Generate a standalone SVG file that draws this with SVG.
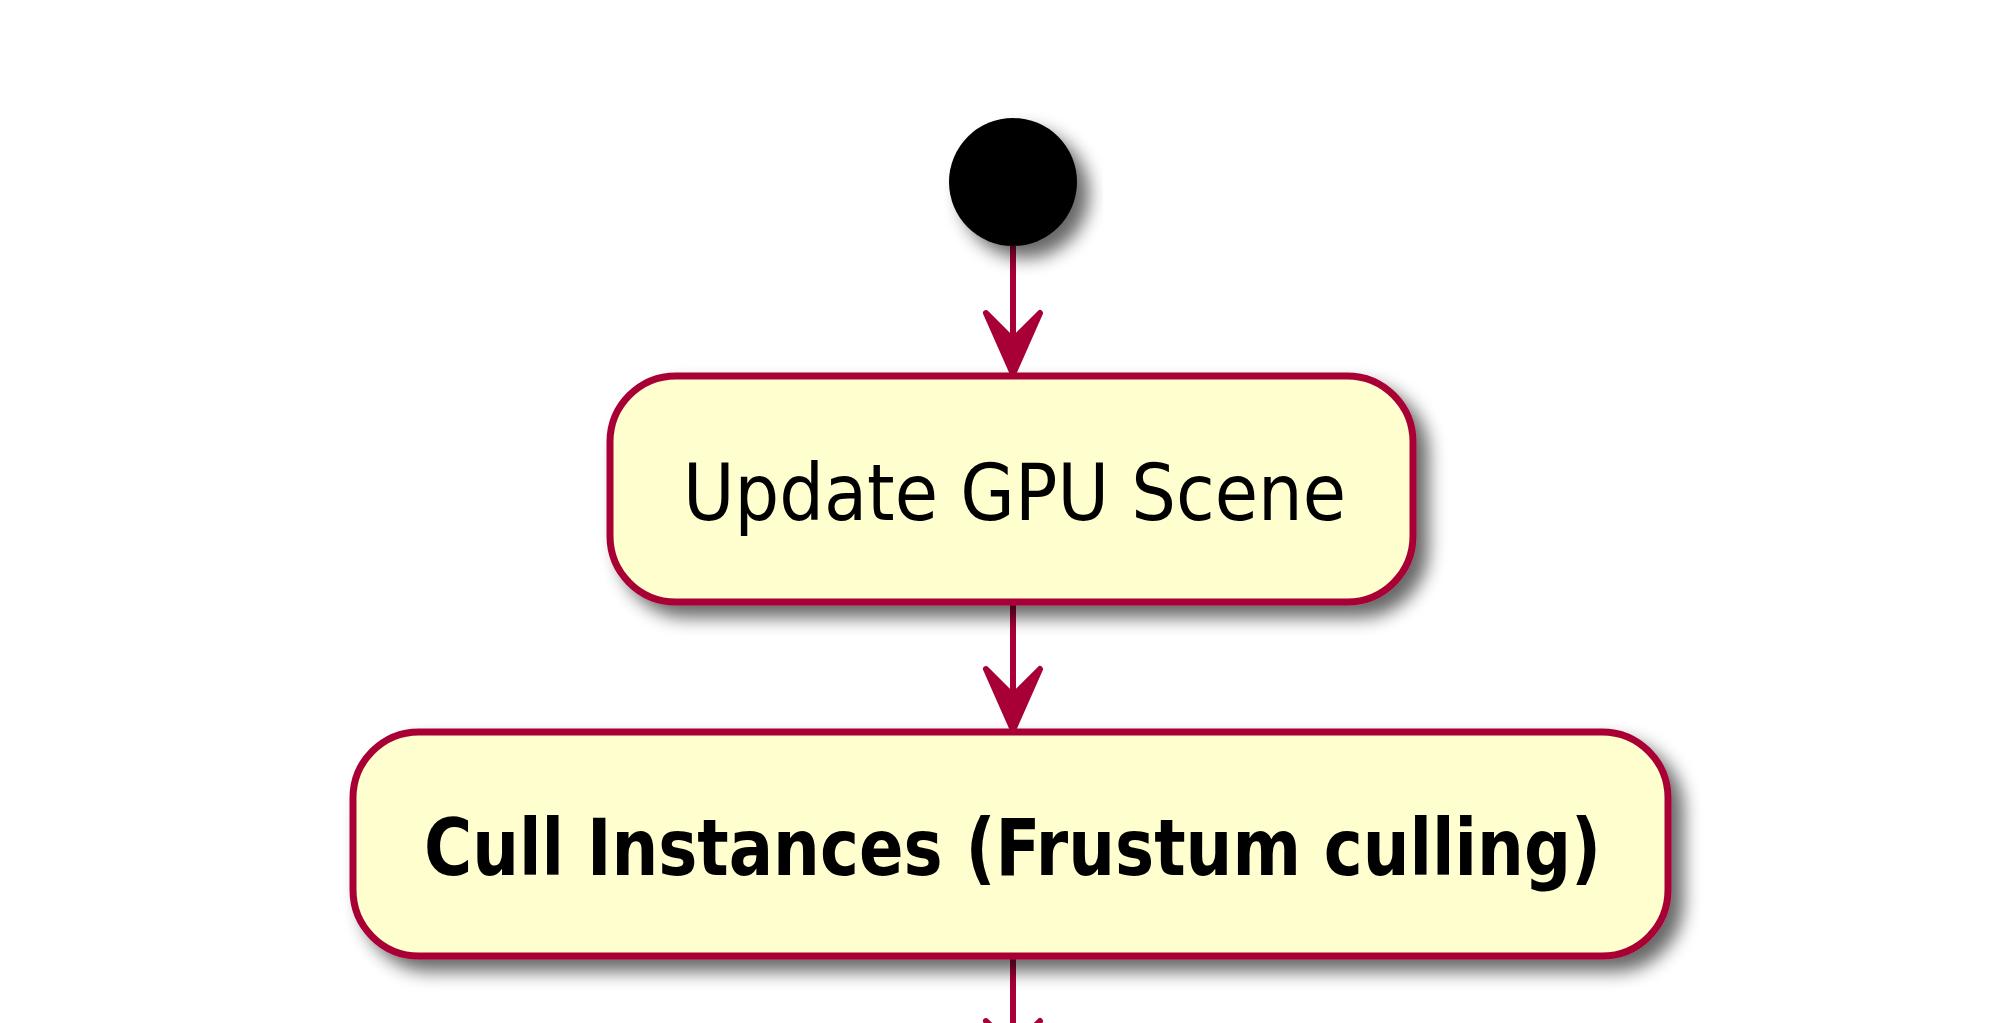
<svg xmlns="http://www.w3.org/2000/svg" width="2000" height="1023" viewBox="0 0 2000 1023">
<defs>
<filter id="shadow" x="-20%" y="-20%" width="140%" height="170%">
<feGaussianBlur in="SourceAlpha" stdDeviation="9"/>
<feOffset dx="12" dy="12" result="b"/>
<feComponentTransfer in="b" result="s"><feFuncA type="linear" slope="0.6"/></feComponentTransfer>
<feMerge><feMergeNode in="s"/><feMergeNode in="SourceGraphic"/></feMerge>
</filter>
<style>
.act{fill:#FEFECE;stroke:#A80036;stroke-width:7;filter:url(#shadow)}
.lbl{font-family:"DejaVu Sans Condensed","DejaVu Sans",sans-serif;font-size:78px;fill:#000}
.edge{stroke:#A80036;stroke-width:6;fill:none}
.head{fill:#A80036;stroke:#A80036;stroke-width:6;stroke-linejoin:round}
</style>
</defs>
<rect width="2000" height="1023" fill="#FFFFFF"/>
<g id="connectors">
<line class="edge" x1="1013" y1="246" x2="1013" y2="372"/>
<polygon class="head" points="1013,374 986,313 1013,340 1040,313"/>
<line class="edge" x1="1013" y1="603" x2="1013" y2="728"/>
<polygon class="head" points="1013,730 986,669 1013,696 1040,669"/>
<line class="edge" x1="1013" y1="957" x2="1013" y2="1080"/>
<polygon class="head" points="1013,1082 986,1021 1013,1048 1040,1021"/>
</g>
<g id="start">
<circle cx="1013" cy="182" r="64" fill="#000" filter="url(#shadow)"/>
</g>
<g id="update-gpu-scene">
<rect class="act" x="610" y="376" width="803" height="226" rx="66" ry="66"/>
<text class="lbl" x="683" y="520" textLength="663" lengthAdjust="spacingAndGlyphs">Update GPU Scene</text>
</g>
<g id="cull-instances">
<rect class="act" x="353" y="732" width="1315" height="224" rx="66" ry="66"/>
<text class="lbl" x="424" y="875" font-weight="bold" textLength="1177" lengthAdjust="spacingAndGlyphs">Cull Instances (Frustum culling)</text>
</g>
</svg>
